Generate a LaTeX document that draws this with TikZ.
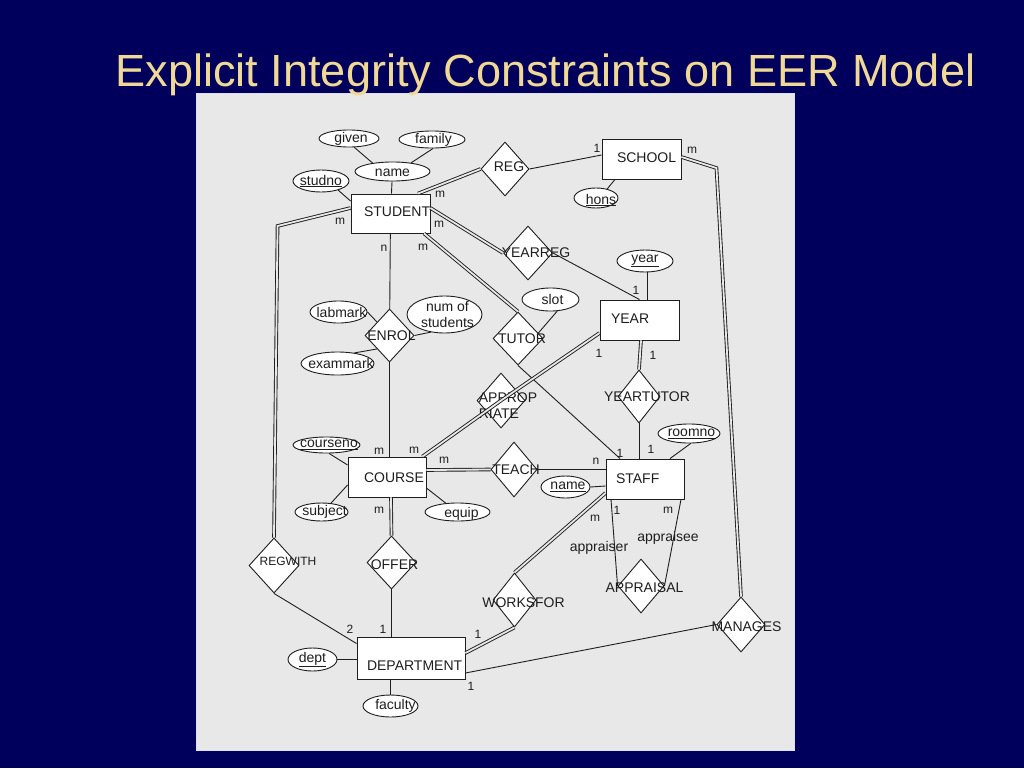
\documentclass[tikz,border=0pt]{standalone}
\usepackage{fontspec}
\setmainfont{Liberation Sans}
\usetikzlibrary{shapes.geometric}

\definecolor{slideblue}{RGB}{0,0,92}
\definecolor{titlegold}{RGB}{240,216,150}
\definecolor{panelgray}{RGB}{232,232,232}
\definecolor{panelrim}{RGB}{222,222,245}
\definecolor{inkgray}{RGB}{30,30,30}

\begin{document}
\begin{tikzpicture}[x=1pt, y=-1pt, draw=inkgray, text=inkgray, line width=0.9pt,
    every node/.style={font=\fontsize{14}{16}\selectfont},
    every label/.style={inner sep=0pt},
    ent/.style={draw, fill=white, inner sep=0pt, minimum width=79, minimum height=40},
    ent text/.style={anchor=west, inner sep=0pt},
    rel/.style={diamond, draw, fill=white, inner sep=0pt, minimum width=48, minimum height=54},
    attr/.style={ellipse, draw, fill=white, inner sep=0pt},
    card/.style={inner sep=0pt, font=\fontsize{12}{14}\selectfont},
    dbl/.style={double=panelgray, double distance=1.8pt, line width=0.9pt}]

    % slide and panel
    \fill[slideblue] (0,0) rectangle (1024,768);
    \filldraw[fill=panelgray, draw=panelrim, line width=1pt] (196,93) rectangle (794,750);
    \node[anchor=base west, inner sep=0pt, text=titlegold, font=\fontsize{45.1}{50}\selectfont]
        (title) at (115,86) {Explicit Integrity Constraints on EER Model};

    % entities
    \node[ent, minimum height=39, label={[ent text, xshift=13, yshift=1.5]west:STUDENT}] (student) at (390.5,213.5) {};
    \node[ent, label={[ent text, xshift=15, yshift=1]west:SCHOOL}] (school) at (641.5,159) {};
    \node[ent, label={[ent text, xshift=11, yshift=1]west:YEAR}] (year) at (639.5,320) {};
    \node[ent, minimum width=78, label={[ent text, xshift=10]west:STAFF}] (staff) at (645,479) {};
    \node[ent, minimum width=78, label={[ent text, xshift=16, yshift=-1]west:COURSE}] (course) at (387,477) {};
    \node[ent, minimum width=108, minimum height=42, label={[ent text, xshift=10, yshift=-8]west:DEPARTMENT}] (department) at (411,658) {};

    % relationships
    \node[rel, label={[xshift=4, yshift=2]center:REG}] (reg) at (505,169) {};
    \node[rel, minimum width=49, label={[xshift=8]center:YEARREG}] (yearreg) at (528,253) {};
    \node[rel, minimum width=49, minimum height=53, label={[xshift=2]center:ENROL}] (enrol) at (389.5,335.5) {};
    \node[rel, minimum width=50, minimum height=53, label={[xshift=4]center:TUTOR}] (tutor) at (518,338.5) {};
    \node[rel, minimum height=55, label={[xshift=7, yshift=-5, align=left]center:APPROP\\RIATE}] (approp) at (501,400.5) {};
    \node[rel, minimum width=42, minimum height=53, label={[xshift=8]center:YEARTUTOR}] (yeartutor) at (639,396.5) {};
    \node[rel, minimum width=46, minimum height=55, label={[xshift=2]center:TEACH}] (teach) at (514,469.5) {};
    \node[rel, minimum width=49, minimum height=53, label={[xshift=3, yshift=-2]center:OFFER}] (offer) at (391.5,562.5) {};
    \node[rel, minimum width=50, minimum height=55, label={[xshift=14, yshift=4, font=\fontsize{12}{14}\selectfont]center:REGWITH}] (regwith) at (274,565.5) {};
    \node[rel, minimum width=43, label={[xshift=9, yshift=-3]center:WORKSFOR}] (worksfor) at (514.5,600) {};
    \node[rel, minimum width=46, label={[xshift=3.5, yshift=-2]center:APPRAISAL}] (appraisal) at (641,586) {};
    \node[rel, minimum height=55, label={[xshift=5.5, yshift=-2]center:MANAGES}] (manages) at (741,624.5) {};

    % attributes
    \node[attr, minimum width=60, minimum height=17, label={[xshift=2]center:given}] (given) at (349,138.5) {};
    \node[attr, minimum width=66, minimum height=17, label={[xshift=1.5]center:family}] (family) at (432,139.5) {};
    \node[attr, minimum width=75, minimum height=19, label={[yshift=-1.5]center:name}] (stuname) at (392.5,171.5) {};
    \node[attr, minimum width=56, minimum height=22, label=center:\underline{studno}] (studno) at (321,181) {};
    \node[attr, minimum width=44, minimum height=20, label={[xshift=5, yshift=-2]center:\underline{hons}}] (hons) at (596,198) {};
    \node[attr, minimum width=56, minimum height=22, label=center:\underline{year}] (yr) at (645,261) {};
    \node[attr, minimum width=57, minimum height=23, label={[xshift=2]center:slot}] (slot) at (550.5,299.5) {};
    \node[attr, minimum width=57, minimum height=22, label={[xshift=3]center:labmark}] (labmark) at (338.5,312) {};
    \node[attr, minimum width=75, minimum height=37, label={[xshift=3, align=center]center:num of\\students}] (numstud) at (444.5,314.5) {};
    \node[attr, minimum width=73, minimum height=23, label={[xshift=3.5]center:exammark}] (exammark) at (337.5,363.5) {};
    \node[attr, minimum width=67, minimum height=16, label={[xshift=2.5]center:\underline{courseno}}] (courseno) at (326.5,445) {};
    \node[attr, minimum width=53, minimum height=18, label={[xshift=3]center:subject}] (subject) at (321.5,512) {};
    \node[attr, minimum width=65, minimum height=18, label={[xshift=4, yshift=-2]center:equip}] (equip) at (457.5,512) {};
    \node[attr, minimum width=62, minimum height=19, label={[xshift=2.5]center:\underline{roomno}}] (roomno) at (689,433.5) {};
    \node[attr, minimum width=49, minimum height=22, label={[xshift=2.5]center:\underline{name}}] (staffname) at (565.5,487) {};
    \node[attr, minimum width=49, minimum height=23, label=center:\underline{dept}] (dept) at (312.5,659.5) {};
    \node[attr, minimum width=55, minimum height=22, label={[xshift=5]center:faculty}] (faculty) at (390.5,706) {};

    % attribute links
    \draw (given.-59) -- (stuname.157);
    \draw (family.-83) -- (stuname.25);
    \draw (stuname) -- (student);
    \draw (studno.-28) -- ([yshift=12.5]student.west);
    \draw ([xshift=-26.5]school.south) -- (hons.39);
    \draw ([xshift=2]yr.south) -- ([xshift=7.5]year.north);
    \draw (slot.-60) -- (tutor.15);
    \draw (labmark.east) -- (enrol.north west);
    \draw (exammark.32) -- (enrol.south west);
    \draw (numstud.-128) -- (enrol.east);
    \draw (courseno.-73) -- ([yshift=12]course.west);
    \draw (subject.43) -- ([yshift=-8]course.west);
    \draw (equip.143) -- ([yshift=-11]course.east);
    \draw (roomno.-80) -- ([xshift=25]staff.north);
    \draw (staffname.east) -- ([yshift=-7]staff.west);
    \draw (dept.east) -- (dept.east -| department.west);
    \draw (faculty.north) -- (faculty.north |- department.south);

    % relationship links
    \draw[dbl] ([xshift=27.5]student.north) -- (reg.west);
    \draw (reg.east) -- ([yshift=4]school.west);
    \draw[dbl] ([yshift=2]school.east) -- ++(35,11) -- (manages.north);
    \draw[dbl] ([yshift=5.5]student.east) -- (yearreg.west);
    \draw (yearreg.east) -- (year.north);
    \draw[dbl] ([xshift=33.5]student.south) -- (tutor.north);
    \draw (tutor.south) -- ([xshift=-25]staff.north);
    \draw (student) -- (enrol);
    \draw (enrol.south) -- (enrol.south |- course.north);
    \draw[dbl] ([xshift=-4]course.north east) -- (approp.center) -- ([yshift=-13]year.west);
    \draw[dbl] ([xshift=1.5]year.south) -- (yeartutor.north);
    \draw (yeartutor.south) -- (yeartutor.south |- staff.north);
    \draw[dbl] ([yshift=7]course.east) -- (teach.west);
    \draw (teach.east) -- (teach.east -| staff.west);
    \draw[dbl] ([yshift=-14]staff.west) -- (worksfor.north);
    \draw[dbl] (worksfor.south) -- ([yshift=5]department.east);
    \draw ([xshift=-34]staff.south) -- (appraisal.west);
    \draw ([xshift=36]staff.south) -- (appraisal.east);
    \draw[dbl] ([xshift=4]course.south) -- (offer.north);
    \draw (offer.south) -- (offer.south |- department.north);
    \draw[dbl] ([yshift=5.5]student.west) -- ++(-73,18) -- (regwith.north);
    \draw (regwith.south) -- ([yshift=-7]department.north west);
    \draw ([yshift=-15]department.east) -- (manages.west);

    % roles
    \node (appraiser) at (599,548) {appraiser};
    \node (appraisee) at (668,538) {appraisee};

    % cardinalities
    \foreach \t/\x/\y [count=\i] in {m/440/194, m/439/224, m/340/221, n/384/248, m/423/247,
        1/597/148, m/692/150, 1/636/290, 1/599/353, 1/653/355,
        1/620/453, 1/651/449, n/596/461, 1/617/510, m/668/510, m/595/518,
        m/379/451, m/414/450, m/444/460, m/379/510,
        2/350/629, 1/383/629, 1/478/634, 1/471/686}
        \node[card] (card\i) at (\x,\y) {\t};
\end{tikzpicture}
\end{document}
